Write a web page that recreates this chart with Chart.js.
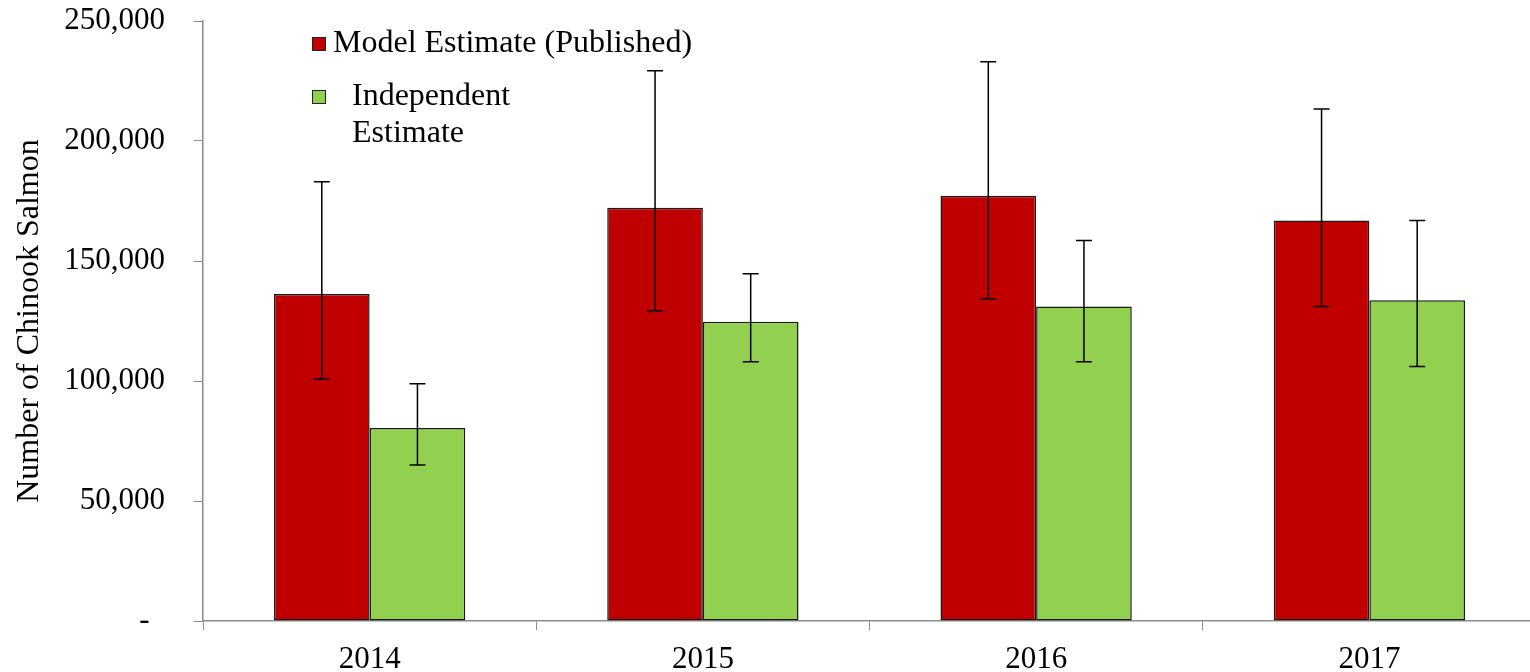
<!DOCTYPE html>
<html lang="en">
<head>
  <meta charset="UTF-8" />
  <title>Chinook Salmon Estimates</title>
  <script src="https://cdn.jsdelivr.net/npm/chart.js"></script>
  <style>
    body { margin: 0; background: #fff; overflow: hidden; }
    .wrap { position: relative; width: 1530px; height: 672px; overflow: hidden; }
  </style>
</head>
<body>
<!-- canvas a few px wider than the window: the plot runs off the right edge in the original -->
<div class="wrap"><canvas id="salmonChart" width="1536" height="672"></canvas></div>
<script>
  // data
  const years = ['2014', '2015', '2016', '2017'];
  const modelEstimate = [136200, 172200, 177200, 166900];
  const modelHigh = [183000, 229300, 233000, 213300];
  const modelLow = [100800, 129300, 134300, 131000];
  const indepEstimate = [80400, 124700, 131000, 133600];
  const indepHigh = [98900, 144700, 158500, 166900];
  const indepLow = [65000, 108000, 108000, 106000];
  const yTicks = [0, 50000, 100000, 150000, 200000, 250000];

  const serif = '"Liberation Serif", "Times New Roman", serif';
  const errors = [[modelLow, modelHigh], [indepLow, indepHigh]];

  // draws the black error whiskers on top of the bars
  const errorBars = {
    id: 'errorBars',
    afterDatasetsDraw(chart) {
      const ctx = chart.ctx;
      const y = chart.scales.y;
      ctx.save();
      ctx.strokeStyle = '#000';
      ctx.lineWidth = 1.5;
      chart.data.datasets.forEach((ds, i) => {
        const meta = chart.getDatasetMeta(i);
        meta.data.forEach((bar, j) => {
          const top = y.getPixelForValue(errors[i][1][j]);
          const bot = y.getPixelForValue(errors[i][0][j]);
          ctx.beginPath();
          ctx.moveTo(bar.x, top); ctx.lineTo(bar.x, bot);
          ctx.moveTo(bar.x - 8, top); ctx.lineTo(bar.x + 8, top);
          ctx.moveTo(bar.x - 8, bot); ctx.lineTo(bar.x + 8, bot);
          ctx.stroke();
        });
      });
      ctx.restore();
    }
  };

  // legend in the upper left of the plot, like the original
  const sideLegend = {
    id: 'sideLegend',
    afterDraw(chart) {
      const ctx = chart.ctx;
      ctx.save();
      ctx.lineWidth = 1;
      ctx.strokeStyle = '#222';
      ctx.fillStyle = '#C00000';
      ctx.fillRect(312, 37, 14, 14);
      ctx.strokeRect(312.5, 37.5, 13, 13);
      ctx.fillStyle = '#92D050';
      ctx.fillRect(312, 90, 14, 14);
      ctx.strokeRect(312.5, 90.5, 13, 13);
      ctx.fillStyle = '#000';
      ctx.font = '32px ' + serif;
      ctx.textBaseline = 'middle';
      ctx.fillText('Model Estimate (Published)', 333, 44);
      ctx.fillText('Independent', 352, 97);
      ctx.fillText('Estimate', 352, 134);
      ctx.restore();
    }
  };

  new Chart(document.getElementById('salmonChart'), {
    type: 'bar',
    data: {
      labels: years,
      datasets: [{
        label: 'Model Estimate (Published)',
        data: modelEstimate,
        backgroundColor: '#C00000',
        borderColor: '#1a1a1a',
        borderWidth: 1.5,
        borderSkipped: false
      }, {
        label: 'Independent Estimate',
        data: indepEstimate,
        backgroundColor: '#92D050',
        borderColor: '#1a1a1a',
        borderWidth: 1.5,
        borderSkipped: false
      }]
    },
    options: {
      responsive: false,
      animation: false,
      devicePixelRatio: 1,
      categoryPercentage: 0.574,
      barPercentage: 1,
      layout: { padding: { top: 21, right: 0, left: 0, bottom: 0 } },
      plugins: { legend: { display: false }, tooltip: { enabled: false } },
      scales: {
        x: {
          grid: { display: true, drawOnChartArea: false, drawTicks: true, tickLength: 9, color: '#8c8c8c', offset: true },
          border: { color: '#8c8c8c', width: 1.5 },
          ticks: { color: '#000', font: { family: serif, size: 31 }, padding: 11 },
          afterFit(scale) { scale.height = 51; scale.paddingLeft = 0; scale.paddingRight = 0; }
        },
        y: {
          min: 0,
          max: 250000,
          afterBuildTicks(scale) { scale.ticks = yTicks.map(v => ({ value: v })); },
          grid: { display: true, drawOnChartArea: false, drawTicks: true, tickLength: 9, color: '#8c8c8c' },
          border: { color: '#8c8c8c', width: 1.5 },
          ticks: {
            color: '#000',
            font: { family: serif, size: 31 },
            padding: 29,
            callback: v => v === 0 ? '-  ' : v.toLocaleString('en-US')
          },
          title: {
            display: true,
            text: 'Number of Chinook Salmon',
            color: '#000',
            font: { family: serif, size: 32 },
            padding: { top: 10, bottom: 0 }
          },
          afterFit(scale) { scale.width = 203; scale.paddingTop = 0; scale.paddingBottom = 0; }
        }
      }
    },
    plugins: [errorBars, sideLegend]
  });
</script>
</body>
</html>
